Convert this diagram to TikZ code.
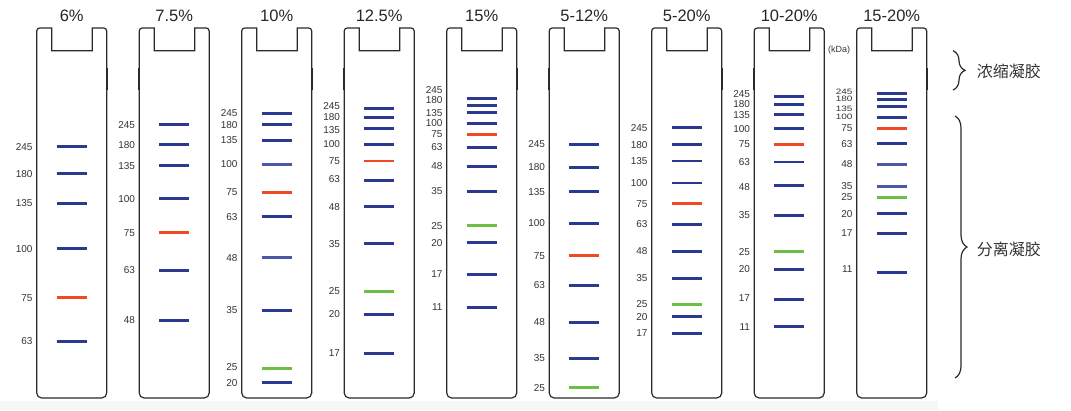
\documentclass[tikz,border=0pt]{standalone}
\usepackage{fontspec}
\setmainfont{Liberation Sans}
\newfontfamily\cjk{Noto Sans CJK SC}
\usetikzlibrary{decorations.pathreplacing}
\definecolor{bblue}{HTML}{2B3A8F}
\definecolor{lblue}{HTML}{4A58A6}
\definecolor{bred}{HTML}{EE4B24}
\definecolor{bgreen}{HTML}{6DBE45}
\definecolor{outl}{HTML}{2A2A2A}
\definecolor{txt}{HTML}{333333}
\tikzset{
  laneline/.style={draw=outl, line width=1.2pt},
  ledge/.style={draw=outl, line width=1.6pt},
  title/.style={font=\fontsize{16.5}{18}\selectfont, text=black!85, inner sep=0pt},
  lbl/.style={font=\fontsize{10}{10}\selectfont, text=txt, inner sep=0pt, anchor=east},
  kda/.style={font=\fontsize{9}{9}\selectfont, text=txt, inner sep=0pt},
  B/.style={draw=bblue, line width=3pt},
  T/.style={draw=bblue, line width=2pt},
  L/.style={draw=lblue, line width=3pt},
  R/.style={draw=bred, line width=3pt},
  RT/.style={draw=bred, line width=1.8pt},
  G/.style={draw=bgreen, line width=3pt},
  brc/.style={draw=outl, line width=1.2pt, decorate, decoration={brace, amplitude=12pt}},
  cn/.style={font=\cjk\fontsize{16}{16}\selectfont, text=txt, inner sep=0pt, anchor=west}
}
\newcommand\gellane[3]{%
  \begin{scope}[shift={(#2,0)}]
    \draw[laneline] (0,31) arc[start angle=180,end angle=270,radius=3] -- (15,28) -- (15,50.7)
      -- (55.6,50.7) -- (55.6,28) -- (67,28) arc[start angle=270,end angle=360,radius=3]
      -- (70,393) arc[start angle=0,end angle=90,radius=5] -- (5,398)
      arc[start angle=90,end angle=180,radius=5] -- cycle;
    \draw[ledge] (-0.4,68) -- (-0.4,90) (70.4,68) -- (70.4,90);
    \node[title] (#1-title) at (35,16) {#3};
  \end{scope}}
\newcommand\gelbands[3]{%
  \begin{scope}[shift={(#1,0)}]
    \foreach \y/\s in {#2} {\draw[\s] (20,\y) -- (50,\y);}
    \foreach \y/\t/\n in {#3} {\node[lbl] (lab-#1-\n) at (-4,\y) {\t};}
  \end{scope}}
\newcommand\sq[1]{\scalebox{1}[0.78]{#1}}
\begin{document}
\begin{tikzpicture}[x=1pt,y=-1pt]
\useasboundingbox (0,0) rectangle (1071,410);
\fill[black!3] (0,401) rectangle (938,410);

\gellane{g1}{36.7}{6\%}
\gellane{g2}{139.2}{7.5\%}
\gellane{g3}{241.7}{10\%}
\gellane{g4}{344.2}{12.5\%}
\gellane{g5}{446.7}{15\%}
\gellane{g6}{549.2}{5-12\%}
\gellane{g7}{651.7}{5-20\%}
\gellane{g8}{754.2}{10-20\%}
\gellane{g9}{856.7}{15-20\%}

\gelbands{36.7}{146.7/B,173.7/B,203.3/B,248.7/B,297.7/R,341/B}
  {146.7/245/a,173.7/180/b,203.3/135/c,248.7/100/d,297.7/75/e,341/63/f}
\gelbands{139.2}{124.7/B,144.7/B,165.7/B,198.7/B,232.7/R,270/B,320/B}
  {124.7/245/a,144.7/180/b,165.7/135/c,198.7/100/d,232.7/75/e,270/63/f,320/48/g}
\gelbands{241.7}{113.3/B,124.7/B,140/B,164/L,192/R,216.7/B,257.7/L,310/B,368/G,382.7/B}
  {113.3/245/a,124.7/180/b,140/135/c,164/100/d,192/75/e,216.7/63/f,257.7/48/g,310/35/h,366.7/25/i,382.7/20/j}
\gelbands{344.2}{108.3/B,117.3/B,128/B,144/B,161/RT,180.3/B,206.7/B,243.7/B,291.3/G,314/B,353/B}
  {106/245/a,117.3/180/b,130.3/135/c,144/100/d,161/75/e,179.3/63/f,206.7/48/g,243.7/35/h,291.3/25/i,314/20/j,353/17/k}
\gelbands{446.7}{98.7/B,105.7/B,112.7/B,123/B,134.3/R,147/B,166/B,191/B,225.7/G,242.7/B,274.7/B,307/B}
  {90/245/a,100/180/b,112.7/135/c,122.7/100/d,134/75/e,147/63/f,166/48/g,191/35/h,225.7/25/i,242.7/20/j,274.3/17/k,307/11/l}
\gelbands{549.2}{144/B,167.3/B,191.7/B,223.3/B,255.7/R,285.3/B,322.3/B,358.3/B,387.7/G}
  {144/245/a,167.3/180/b,191.7/135/c,223.3/100/d,255.7/75/e,285.3/63/f,322.3/48/g,358.3/35/h,387.7/25/i}
\gelbands{651.7}{127.7/B,144.7/B,161/T,182.7/T,203.7/R,224/B,251.3/B,278.3/B,304.3/G,316.7/B,333/B}
  {127.7/245/a,144.7/180/b,161/135/c,182.7/100/d,203.7/75/e,224/63/f,251.3/48/g,278.3/35/h,304.3/25/i,316.7/20/j,333/17/k}
\gelbands{754.2}{96/B,104/B,114.3/B,128.7/B,144/R,161.7/T,185.3/B,215/B,251.7/G,269.3/B,299/B,326.7/B}
  {94.3/245/a,104/180/b,115/135/c,128.7/100/d,144/75/e,162/63/f,186.7/48/g,215/35/h,252/25/i,269/20/j,298/17/k,327/11/l}
\gelbands{856.7}{93.3/B,99.3/B,106/B,117.7/B,128.3/R,143.7/B,164/L,186.7/L,197.3/G,213.7/B,233.3/B,272.3/B}
  {92/\sq{245}/a,98.8/\sq{180}/b,109/\sq{135}/c,117/\sq{100}/d,128.3/75/e,143.7/63/f,164/48/g,186/35/h,197.5/25/i,213.7/20/j,233.3/17/k,269.3/11/l}

\node[kda] (kda) at (839,50) {(kDa)};

\coordinate (b1t) at (953,50.7);
\coordinate (b1b) at (953,90);
\coordinate (b2t) at (955,116);
\coordinate (b2b) at (955,378);
\draw[brc] (b1t) -- (b1b);
\draw[brc] (b2t) -- (b2b);
\node[cn] (stack) at (976.7,71.7) {浓缩凝胶};
\node[cn] (sep) at (976.7,249.3) {分离凝胶};
\end{tikzpicture}
\end{document}
